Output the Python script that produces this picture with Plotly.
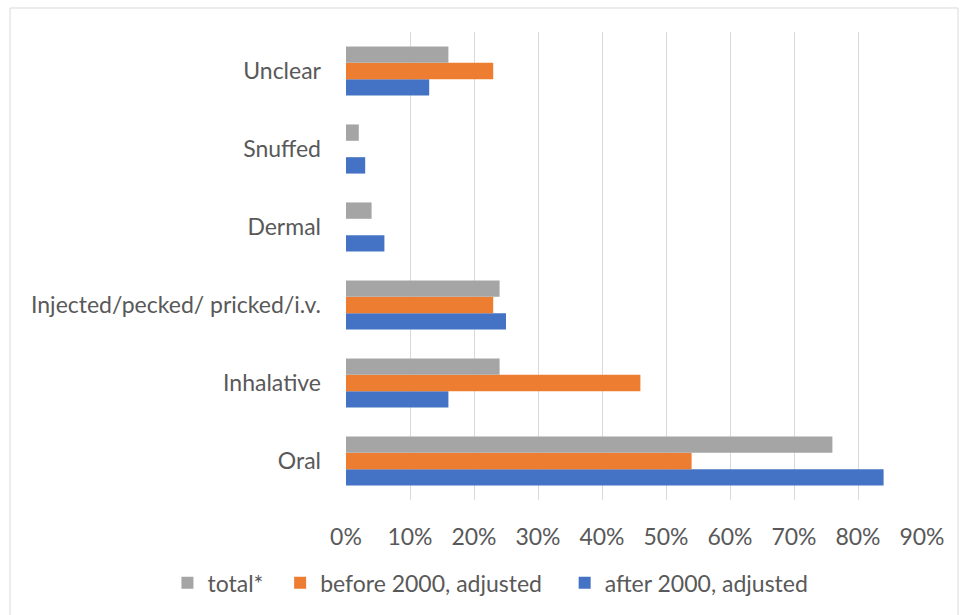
import plotly.graph_objects as go

categories = ["Oral", "Inhalative", "Injected/pecked/ pricked/i.v.", "Dermal", "Snuffed", "Unclear"]
total = [76, 24, 24, 4, 2, 16]
before_2000 = [54, 46, 23, 0, 0, 23]
after_2000 = [84, 16, 25, 6, 3, 13]
x_ticks = [0, 10, 20, 30, 40, 50, 60, 70, 80, 90]
x_tick_labels = [f"{v}%" for v in x_ticks]
series_names = ["total*", "before 2000, adjusted", "after 2000, adjusted"]

font_fam = "Lato, 'Open Sans', sans-serif"
txt = "#595959"
nb = "\u00a0"

fig = go.Figure()
fig.add_trace(go.Bar(y=categories, x=after_2000, orientation="h", name=series_names[2],
                     marker=dict(color="#4472C4", line=dict(width=0))))
fig.add_trace(go.Bar(y=categories, x=before_2000, orientation="h", name=series_names[1] + nb * 3,
                     marker=dict(color="#ED7D31", line=dict(width=0))))
fig.add_trace(go.Bar(y=categories, x=total, orientation="h", name=series_names[0] + nb * 2,
                     marker=dict(color="#A5A5A5", line=dict(width=0))))

fig.update_layout(
    width=968, height=615,
    margin=dict(l=346, r=46, t=32, b=115, autoexpand=False),
    barmode="group", bargap=0.37, bargroupgap=0,
    paper_bgcolor="white", plot_bgcolor="white",
    font=dict(family=font_fam, size=23, color=txt),
    legend=dict(orientation="h", x=-0.31, xanchor="left", y=-0.177, yanchor="middle",
                traceorder="reversed", font=dict(size=23, color=txt)),
    showlegend=True,
)
fig.update_xaxes(range=[0, 90], tickmode="array", tickvals=x_ticks, ticktext=x_tick_labels,
                 showgrid=True, gridcolor="#d9d9d9", gridwidth=1, zeroline=False, showline=False,
                 ticklabelstandoff=21, automargin=False)
fig.update_yaxes(showgrid=False, showline=False, ticklabelstandoff=24, automargin=False)

fig.add_shape(type="rect", xref="paper", yref="paper", x0=-0.5833, x1=1.0625, y0=-0.4, y1=1.0513,
              line=dict(color="#d9d9d9", width=1), fillcolor="rgba(0,0,0,0)", layer="below")

fig.write_html("out.html", config={"displayModeBar": False},
               post_script="document.body.style.margin='0';")
